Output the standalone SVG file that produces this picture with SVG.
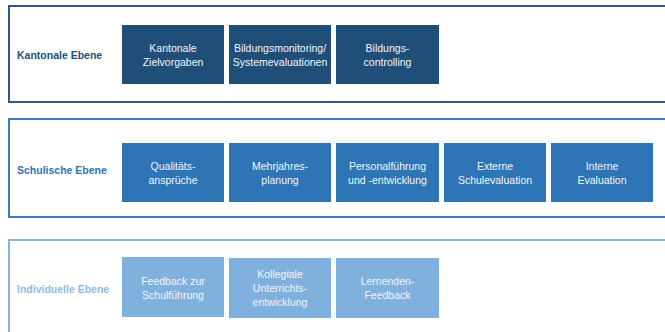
<svg xmlns="http://www.w3.org/2000/svg" width="665" height="332" viewBox="0 0 665 332">
  <style>
    text { font-family: "Liberation Sans", Arial, sans-serif; }
    .lvl { font-size: 10.5px; font-weight: bold; }
    .box text { font-size: 10.5px; fill: #f2f5f9; text-anchor: middle; }
    .frame { fill: #ffffff; stroke-width: 2; }
    .k rect { fill: #1f4e79; }
    .s rect { fill: #2e75b6; }
    .i rect { fill: #7fb0de; }
  </style>
  <rect width="665" height="332" fill="#ffffff"/>

  <!-- Level frames -->
  <g id="level-kanton">
    <rect class="frame" x="9" y="6" width="670" height="96" stroke="#2f5a86"/>
    <text class="lvl" x="17" y="59" fill="#1f4e79">Kantonale Ebene</text>
  </g>
  <g id="level-schule">
    <rect class="frame" x="9" y="119" width="670" height="98" stroke="#3a7dbd"/>
    <text class="lvl" x="17" y="174" fill="#2e75b6">Schulische Ebene</text>
  </g>
  <g id="level-individuell">
    <rect class="frame" x="9" y="240" width="670" height="100" stroke="#86b4e0"/>
    <text class="lvl" x="17" y="293" fill="#8dbbe5">Individuelle Ebene</text>
  </g>

  <!-- Kantonale Ebene -->
  <g id="kantonale-zielvorgaben" class="box k">
    <rect x="122" y="25" width="102" height="59"/>
    <text x="173" y="52">Kantonale</text>
    <text x="173" y="66">Zielvorgaben</text>
  </g>
  <g id="bildungsmonitoring" class="box k">
    <rect x="229" y="25" width="102" height="59"/>
    <text x="280" y="52">Bildungsmonitoring/</text>
    <text x="280" y="66">Systemevaluationen</text>
  </g>
  <g id="bildungscontrolling" class="box k">
    <rect x="336" y="25" width="103" height="59"/>
    <text x="387.5" y="52">Bildungs-</text>
    <text x="387.5" y="66">controlling</text>
  </g>

  <!-- Schulische Ebene -->
  <g id="qualitaetsansprueche" class="box s">
    <rect x="122" y="143" width="102" height="59"/>
    <text x="173" y="170">Qualitäts-</text>
    <text x="173" y="184">ansprüche</text>
  </g>
  <g id="mehrjahresplanung" class="box s">
    <rect x="229" y="143" width="102" height="59"/>
    <text x="280" y="170">Mehrjahres-</text>
    <text x="280" y="184">planung</text>
  </g>
  <g id="personalfuehrung" class="box s">
    <rect x="336" y="143" width="103" height="59"/>
    <text x="387.5" y="170">Personalführung</text>
    <text x="387.5" y="184">und -entwicklung</text>
  </g>
  <g id="externe-schulevaluation" class="box s">
    <rect x="444" y="143" width="102" height="59"/>
    <text x="495" y="170">Externe</text>
    <text x="495" y="184">Schulevaluation</text>
  </g>
  <g id="interne-evaluation" class="box s">
    <rect x="551" y="143" width="102" height="59"/>
    <text x="602" y="170">Interne</text>
    <text x="602" y="184">Evaluation</text>
  </g>

  <!-- Individuelle Ebene -->
  <g id="feedback-schulfuehrung" class="box i">
    <rect x="122" y="257" width="102" height="60"/>
    <text x="173" y="285">Feedback zur</text>
    <text x="173" y="299">Schulführung</text>
  </g>
  <g id="kollegiale-unterrichtsentwicklung" class="box i">
    <rect x="229" y="258" width="102" height="60"/>
    <text x="280" y="278">Kollegiale</text>
    <text x="280" y="292">Unterrichts-</text>
    <text x="280" y="306">entwicklung</text>
  </g>
  <g id="lernenden-feedback" class="box i">
    <rect x="336" y="258" width="103" height="60"/>
    <text x="387.5" y="285">Lernenden-</text>
    <text x="387.5" y="299">Feedback</text>
  </g>

  <!-- no connectors in this diagram -->
  <g id="connectors"/>
</svg>
